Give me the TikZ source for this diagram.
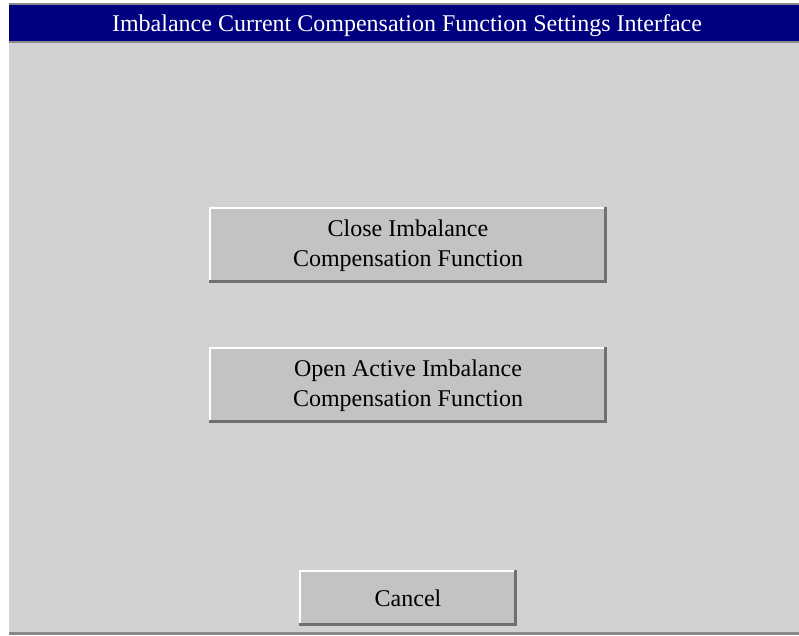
\documentclass[tikz,border=0pt]{standalone}
\usepackage{fontspec}
\setmainfont{Liberation Serif}
\definecolor{panelbg}{HTML}{D2D2D2}
\definecolor{btnface}{HTML}{C3C3C3}
\definecolor{navybar}{HTML}{000080}
\definecolor{shadowgray}{HTML}{707070}
\definecolor{edgegray}{HTML}{8A8A8A}
\tikzset{
  px/.style={x=1pt,y=-1pt},
  btntext/.style={font=\fontsize{24}{30}\selectfont, text=black, align=center, inner sep=0pt},
}
\newcommand{\bevelbtn}[5]{% name, x1, y1, x2, y2
  \fill[btnface] (#2,#3) rectangle (#4,#5);
  \draw[white, line width=2.5pt] (#2+1.2,#5-1) -- (#2+1.2,#3+1.2) -- (#4-1,#3+1.2);
  \draw[shadowgray, line width=3pt] (#2,#5-1.5) -- (#4-1.5,#5-1.5) -- (#4-1.5,#3);
  \coordinate (#1) at ({(#2+#4)/2},{(#3+#5)/2});
}
\begin{document}
\begin{tikzpicture}[px]
\useasboundingbox (0,0) rectangle (799,635);
\fill[white] (0,0) rectangle (799,635);
\fill[panelbg] (9,4) rectangle (799,633);
\fill[edgegray] (9,3) rectangle (799,5);
\fill[navybar] (9,5) rectangle (799,41);
\fill[edgegray] (9,41) rectangle (799,42.5);
\fill[edgegray] (9,631.5) rectangle (799,635);
\node[font=\fontsize{24}{26}\selectfont, text=white, inner sep=0pt] (title) at (407,26) {Imbalance Current Compensation Function Settings Interface};
\bevelbtn{b1}{209}{207}{607}{283}
\node[btntext] (t1) at ([yshift=-1pt]b1) {Close Imbalance\\Compensation Function};
\bevelbtn{b2}{209}{347}{607}{423}
\node[btntext] (t2) at ([yshift=-1pt]b2) {Open Active Imbalance\\Compensation Function};
\bevelbtn{b3}{299}{570}{517}{626}
\node[btntext] (t3) at (b3) {Cancel};
\end{tikzpicture}
\end{document}
